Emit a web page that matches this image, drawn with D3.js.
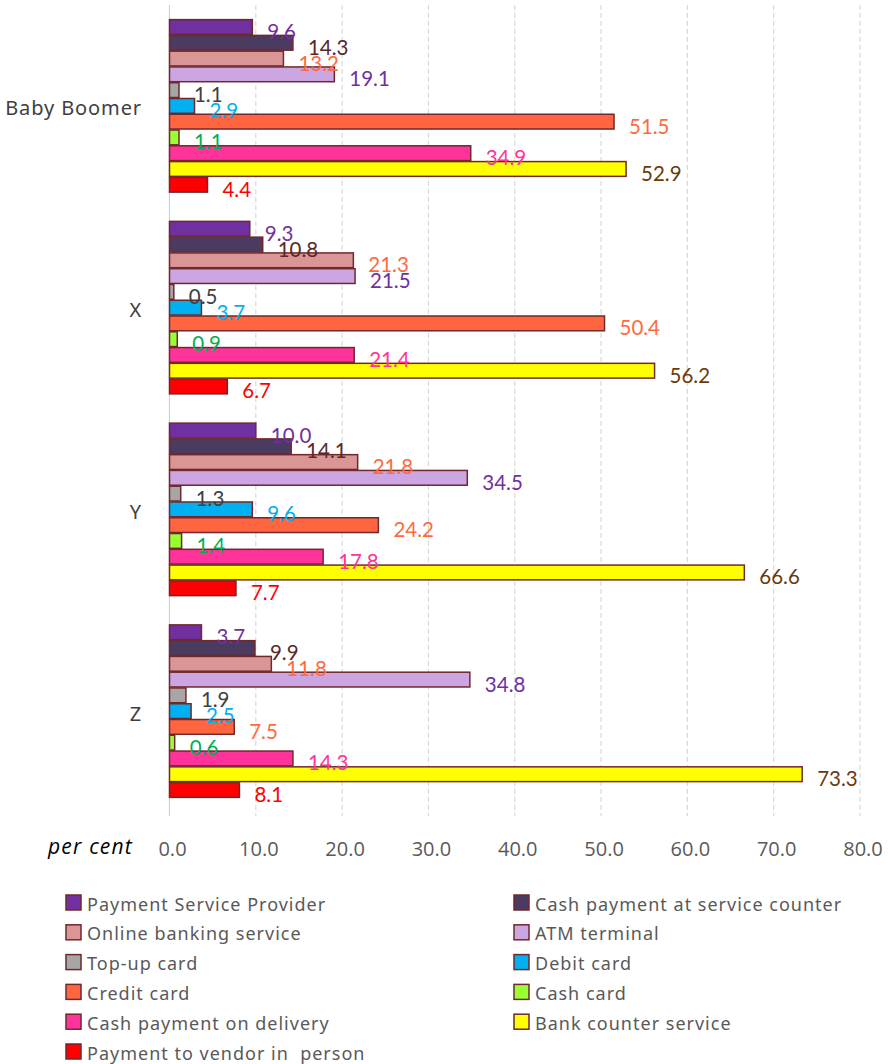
<!DOCTYPE html>
<html>
<head>
<meta charset="utf-8">
<script src="https://cdn.jsdelivr.net/npm/d3@7"></script>
<style>
  html, body { margin: 0; padding: 0; background: #fff; }
  svg { display: block; }
</style>
</head>
<body>
<svg id="chart" width="890" height="1064"></svg>
<script>
// Generations shown on the category axis
const generations = ["Baby Boomer", "X", "Y", "Z"];

// Payment channels (one bar per channel in every generation)
const channels = [
  "Payment Service Provider",
  "Cash payment at service counter",
  "Online banking service",
  "ATM terminal",
  "Top-up card",
  "Debit card",
  "Credit card",
  "Cash card",
  "Cash payment on delivery",
  "Bank counter service",
  "Payment to vendor in  person"
];

// Share of respondents (per cent), in channel order
const babyBoomer = [9.6, 14.3, 13.2, 19.1, 1.1, 2.9, 51.5, 1.1, 34.9, 52.9, 4.4];
const genX       = [9.3, 10.8, 21.3, 21.5, 0.5, 3.7, 50.4, 0.9, 21.4, 56.2, 6.7];
const genY       = [10.0, 14.1, 21.8, 34.5, 1.3, 9.6, 24.2, 1.4, 17.8, 66.6, 7.7];
const genZ       = [3.7, 9.9, 11.8, 34.8, 1.9, 2.5, 7.5, 0.6, 14.3, 73.3, 8.1];

// Axis ticks
const xTicks = [0, 10, 20, 30, 40, 50, 60, 70, 80];

const seriesByGeneration = [babyBoomer, genX, genY, genZ];

const fills = ["#7030a0", "#4b3b60", "#d99694", "#cba6e3", "#a6a6a6", "#00b0f0",
               "#ff6640", "#99ff33", "#ff3399", "#ffff00", "#ff0000"];
const labelColors = ["#7030a0", "#5a2828", "#ff6a3d", "#7030a0", "#404040", "#00b0f0",
                     "#ff6a3d", "#00b050", "#ff3399", "#6b3a0a", "#ff0000"];
const barStroke = "#70282c";

const svg = d3.select("#chart");
const margin = { left: 169.5, right: 860, top: 5, bottom: 812 };

const x = d3.scaleLinear().domain([0, 80]).range([margin.left, margin.right]);
const yGroup = d3.scaleBand().domain(generations)
  .range([margin.top, margin.bottom]).paddingInner(0.14).paddingOuter(0.07);
const yBar = d3.scaleBand().domain(d3.range(channels.length))
  .range([0, yGroup.bandwidth()]).padding(0);

// Gridlines (dashed), drawn from the tick values
const grid = svg.append("g");
grid.selectAll("line.grid")
  .data(xTicks.filter(t => t > 0))
  .join("line")
  .attr("class", "grid")
  .attr("x1", d => x(d)).attr("x2", d => x(d))
  .attr("y1", margin.top).attr("y2", margin.bottom + 4)
  .attr("stroke", "#d9d9d9").attr("stroke-width", 1.2)
  .attr("stroke-dasharray", "5,3");

// Value axis baseline
svg.append("line")
  .attr("x1", x(0)).attr("x2", x(0))
  .attr("y1", margin.top).attr("y2", margin.bottom + 4)
  .attr("stroke", "#d0d0d0").attr("stroke-width", 1.2);

// Bars
const rows = [];
generations.forEach((g, gi) => {
  seriesByGeneration[gi].forEach((v, ci) => rows.push({ g, ci, v }));
});

const bars = svg.append("g");
bars.selectAll("rect")
  .data(rows)
  .join("rect")
  .attr("x", x(0))
  .attr("y", d => yGroup(d.g) + yBar(d.ci) + 0.5)
  .attr("width", d => x(d.v) - x(0))
  .attr("height", yBar.bandwidth() - 1)
  .attr("fill", d => fills[d.ci])
  .attr("stroke", barStroke)
  .attr("stroke-width", 1.5);

// Value labels
svg.append("g").selectAll("text")
  .data(rows)
  .join("text")
  .attr("x", d => x(d.v) + 15)
  .attr("y", d => yGroup(d.g) + yBar(d.ci) + yBar.bandwidth() / 2 + 4)
  .attr("dominant-baseline", "central")
  .attr("font-family", "Lato, 'Open Sans', sans-serif")
  .attr("font-size", 20.5)
  .attr("fill", d => labelColors[d.ci])
  .text(d => d.v.toFixed(1));

// Category labels
svg.append("g").selectAll("text")
  .data(generations)
  .join("text")
  .attr("x", 142)
  .attr("y", d => yGroup(d) + yGroup.bandwidth() / 2 + 2)
  .attr("text-anchor", "end")
  .attr("dominant-baseline", "central")
  .attr("font-family", "'Noto Sans', sans-serif")
  .attr("font-size", 20)
  .attr("letter-spacing", 0.9)
  .attr("fill", "#404040")
  .text(d => d);

// Tick labels
svg.append("g").selectAll("text")
  .data(xTicks)
  .join("text")
  .attr("x", d => x(d) + 3)
  .attr("y", 848)
  .attr("text-anchor", "middle")
  .attr("dominant-baseline", "central")
  .attr("font-family", "'Liberation Sans Narrow', 'Open Sans', sans-serif")
  .attr("font-size", 20)
  .attr("fill", "#595959")
  .text(d => d.toFixed(1));

svg.append("text")
  .attr("x", 48).attr("y", 846)
  .attr("dominant-baseline", "central")
  .attr("font-family", "'Open Sans', sans-serif")
  .attr("font-style", "italic")
  .attr("font-size", 21)
  .attr("letter-spacing", 1.2)
  .attr("fill", "#000")
  .text("per cent");

// Legend: two columns
const legend = svg.append("g");
const legendItems = legend.selectAll("g")
  .data(channels)
  .join("g")
  .attr("transform", (d, i) => {
    const col = i % 2, row = Math.floor(i / 2);
    return `translate(${col === 0 ? 66 : 514}, ${895 + row * 29.8})`;
  });
legendItems.append("rect")
  .attr("width", 15).attr("height", 15)
  .attr("fill", (d, i) => fills[i])
  .attr("stroke", barStroke).attr("stroke-width", 1.5);
legendItems.append("text")
  .attr("x", 21).attr("y", 8.5)
  .attr("dominant-baseline", "central")
  .attr("font-family", "'Noto Sans', sans-serif")
  .attr("font-size", 18)
  .attr("letter-spacing", 1.0)
  .attr("fill", "#595959")
  .attr("xml:space", "preserve")
  .style("white-space", "pre")
  .text(d => d);
</script>
</body>
</html>
